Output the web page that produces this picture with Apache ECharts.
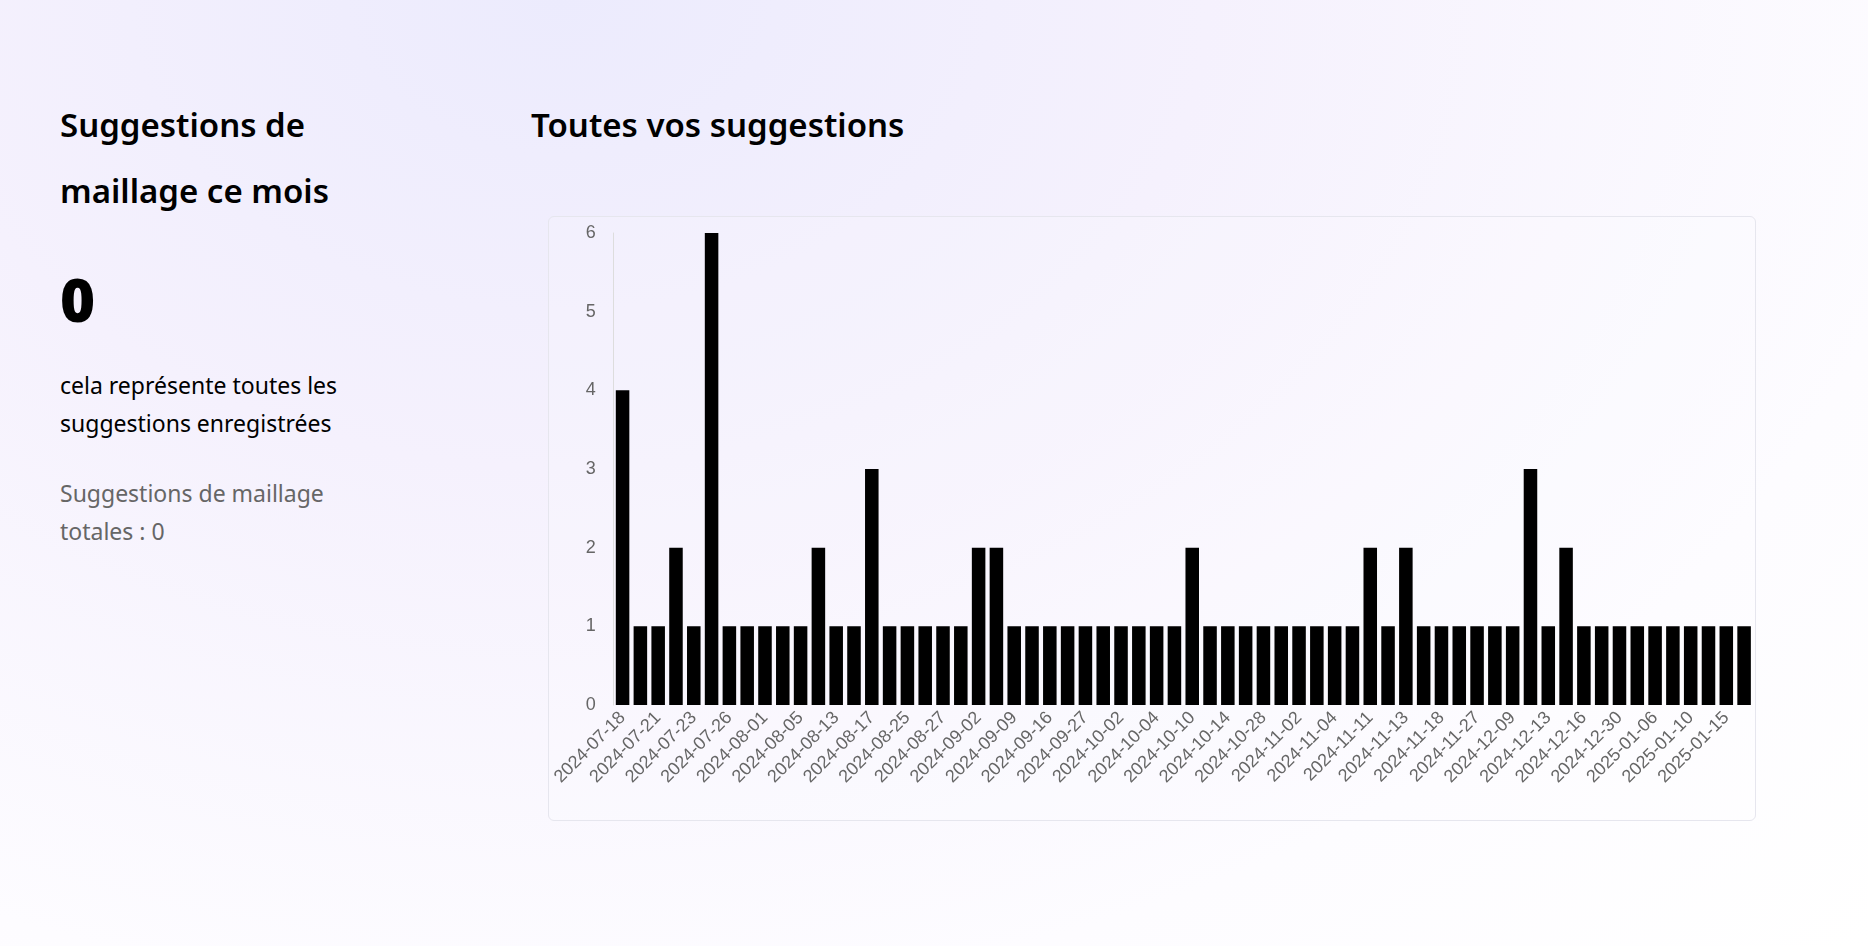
<!DOCTYPE html>
<html><head><meta charset="utf-8">
<script src="https://cdn.jsdelivr.net/npm/echarts@6/dist/echarts.min.js"></script>
<style>
body{margin:0;width:1868px;height:946px;overflow:hidden;font-family:"Noto Sans",Lato,sans-serif;
background:radial-gradient(ellipse at 30% 0%,#ecebfd 0%,#f5f1fd 35%,#fdfcff 75%,#ffffff 100%);}
.l{position:absolute;left:60px;color:#000}
#box{position:absolute;left:548px;top:216px;width:1206px;height:603px;border:1px solid #e6e6ee;border-radius:6px;background:rgba(255,255,255,0.15)}
#chart{position:absolute;left:0;top:0;width:1206px;height:603px}
</style></head><body>
<div class="l" style="top:92px;font-size:33px;font-weight:600;line-height:66px">Suggestions de<br>maillage ce mois</div>
<div class="l" style="top:258px;font-size:60px;font-weight:900">0</div>
<div class="l" style="top:366px;font-size:23px;line-height:38px">cela représente toutes les<br>suggestions enregistrées</div>
<div class="l" style="top:474px;font-size:23px;line-height:38px;color:#666">Suggestions de maillage<br>totales : 0</div>
<div style="position:absolute;left:531px;top:102px;font-size:33px;font-weight:600">Toutes vos suggestions</div>
<div id="box"><div id="chart"></div></div>
<script>
var dates = ['2024-07-18','2024-07-19','2024-07-21','2024-07-22','2024-07-23','2024-07-24','2024-07-26','2024-07-29',
  '2024-08-01','2024-08-02','2024-08-05','2024-08-08','2024-08-13','2024-08-15','2024-08-17','2024-08-20',
  '2024-08-25','2024-08-26','2024-08-27','2024-08-29','2024-09-02','2024-09-05','2024-09-09','2024-09-12',
  '2024-09-16','2024-09-20','2024-09-27','2024-09-30','2024-10-02','2024-10-03','2024-10-04','2024-10-08',
  '2024-10-10','2024-10-11','2024-10-14','2024-10-21','2024-10-28','2024-10-30','2024-11-02','2024-11-03',
  '2024-11-04','2024-11-07','2024-11-11','2024-11-12','2024-11-13','2024-11-15','2024-11-18','2024-11-22',
  '2024-11-27','2024-12-03','2024-12-09','2024-12-11','2024-12-13','2024-12-14','2024-12-16','2024-12-20',
  '2024-12-30','2025-01-02','2025-01-06','2025-01-08','2025-01-10','2025-01-13','2025-01-15','2025-01-17'];
var counts = [4,1,1,2,1,6,1,1,1,1,1,2,1,1,3,1,1,1,1,1,2,2,1,1,1,1,1,1,1,1,1,1,
  2,1,1,1,1,1,1,1,1,1,2,1,2,1,1,1,1,1,1,3,1,2,1,1,1,1,1,1,1,1,1,1];
var yTicks = [0,1,2,3,4,5,6];

var myChart = echarts.init(document.getElementById('chart'));
var option = {
    animation: false,
    grid: {left: 62, right: 2, top: 16, bottom: 115},
    xAxis: {
        type: 'category', data: dates,
        axisLine: {show: false}, axisTick: {show: false},
        axisLabel: {rotate: 45, interval: 1, color: '#666', fontSize: 18, fontFamily: 'Liberation Sans', margin: 10}
    },
    yAxis: {
        type: 'value', min: yTicks[0], max: yTicks[yTicks.length - 1], interval: 1,
        axisLine: {show: true, lineStyle: {color: '#ddd'}},
        axisTick: {show: false}, splitLine: {show: false},
        axisLabel: {color: '#666', fontSize: 18, fontFamily: 'Liberation Sans', margin: 18}
    },
    series: [{type: 'bar', data: counts, barCategoryGap: '24%', itemStyle: {color: '#000'}}]
};
myChart.setOption(option, true);
</script>
</body></html>
